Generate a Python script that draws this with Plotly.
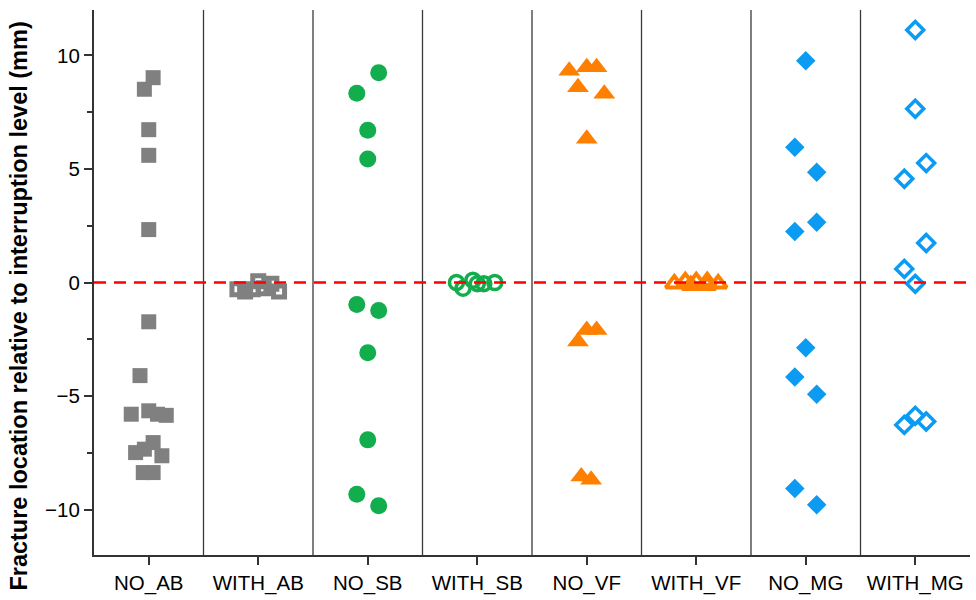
import plotly.graph_objects as go

categories = ["NO_AB", "WITH_AB", "NO_SB", "WITH_SB", "NO_VF", "WITH_VF", "NO_MG", "WITH_MG"]

# values (mm) and horizontal jitter (category units) per group
no_ab_y = [9.02, 8.51, 6.73, 5.6, 2.33, -1.73, -4.1, -5.8, -5.65, -5.8, -5.85, -7.05, -7.49, -7.34, -7.63, -8.37, -8.37]
no_ab_dx = [0.04, -0.04, 0.0, 0.0, 0.0, 0.0, -0.08, -0.16, 0.0, 0.08, 0.16, 0.04, -0.12, -0.04, 0.12, -0.05, 0.04]

with_ab_y = [-0.3, -0.4, -0.3, 0.05, -0.25, -0.05, -0.4]
with_ab_dx = [-0.19, -0.12, -0.05, 0.0, 0.05, 0.12, 0.19]

no_sb_y = [9.24, 8.33, 6.7, 5.44, -0.97, -1.23, -3.09, -6.93, -9.32, -9.83]
no_sb_dx = [0.1, -0.1, 0.0, 0.0, -0.1, 0.1, 0.0, 0.0, -0.1, 0.1]

with_sb_y = [0.0, -0.25, 0.1, -0.05, -0.05, 0.0]
with_sb_dx = [-0.19, -0.13, -0.04, 0.0, 0.06, 0.16]

no_vf_y = [9.33, 9.48, 9.48, 8.6, 8.31, 6.33, -2.09, -2.09, -2.6, -8.54, -8.69]
no_vf_dx = [-0.16, 0.0, 0.09, -0.08, 0.16, 0.0, 0.0, 0.09, -0.08, -0.05, 0.04]

with_vf_y = [-0.05, 0.05, 0.05, 0.05, -0.05, -0.12, -0.12]
with_vf_dx = [-0.2, -0.1, 0.0, 0.1, 0.2, -0.05, 0.1]

no_mg_y = [9.76, 5.96, 4.86, 2.65, 2.25, -2.87, -4.16, -4.92, -9.07, -9.79]
no_mg_dx = [0.0, -0.1, 0.1, 0.1, -0.1, 0.0, -0.1, 0.1, -0.1, 0.1]

with_mg_y = [11.12, 7.65, 5.26, 4.57, 1.74, 0.6, -0.06, -5.87, -6.27, -6.12]
with_mg_dx = [0.0, 0.0, 0.1, -0.1, 0.1, -0.1, 0.0, 0.0, -0.1, 0.1]

GRAY = "#808080"
GREEN = "#12ad4c"
ORANGE = "#ff8000"
BLUE = "#0c9bf2"

groups = [
    (no_ab_y, no_ab_dx, dict(symbol="square", size=15, color=GRAY)),
    (with_ab_y, with_ab_dx, dict(symbol="square-open", size=11, color=GRAY, line=dict(width=5, color=GRAY))),
    (no_sb_y, no_sb_dx, dict(symbol="circle", size=17, color=GREEN)),
    (with_sb_y, with_sb_dx, dict(symbol="circle-open", size=14, color=GREEN, line=dict(width=3.5, color=GREEN))),
    (no_vf_y, no_vf_dx, dict(symbol="triangle-up", size=19, color=ORANGE)),
    (with_vf_y, with_vf_dx, dict(symbol="triangle-up-open", size=15, color=ORANGE, line=dict(width=4, color=ORANGE))),
    (no_mg_y, no_mg_dx, dict(symbol="diamond", size=15, color=BLUE)),
    (with_mg_y, with_mg_dx, dict(symbol="diamond-open", size=13, color=BLUE, line=dict(width=3.5, color=BLUE))),
]

fig = go.Figure()
for i, (ys, dxs, mk) in enumerate(groups):
    fig.add_trace(go.Scatter(
        x=[i + d for d in dxs], y=ys, mode="markers",
        marker=mk, showlegend=False, cliponaxis=False,
    ))

# category separators
for i in range(len(categories) - 1):
    fig.add_shape(type="line", xref="x", yref="paper", x0=i + 0.5, x1=i + 0.5, y0=0, y1=1,
                  line=dict(color="#3a3a3a", width=1.3), layer="below")

# zero reference line
fig.add_shape(type="line", xref="paper", yref="y", x0=0, x1=1, y0=0, y1=0,
              line=dict(color="#ff0000", width=2.5, dash="12px,8px"), layer="above")

fig.add_annotation(
    text="<b>Fracture location relative to interruption level (mm)</b>",
    xref="paper", yref="paper", x=-0.086, y=0.457, textangle=-90,
    showarrow=False, xanchor="center", yanchor="middle",
    font=dict(family="Liberation Sans, Arial", size=23.5, color="#000"),
)

fig.update_layout(
    width=976, height=600,
    margin=dict(l=94, r=6, t=10, b=45),
    plot_bgcolor="white", paper_bgcolor="white",
    font=dict(family="Liberation Sans, Arial", size=20, color="#000"),
    xaxis=dict(
        range=[-0.5, 7.5], tickmode="array", tickvals=list(range(len(categories))),
        ticktext=categories, ticks="outside", ticklen=8, tickwidth=1.5, tickcolor="#333",
        showline=True, linecolor="#333", linewidth=2, showgrid=False, zeroline=False,
        tickfont=dict(size=20.5),
    ),
    yaxis=dict(
        range=[-12, 12], tickmode="array", tickvals=[-10, -5, 0, 5, 10],
        ticktext=["\u221210", "\u22125", "0", "5", "10"],
        ticks="outside", ticklen=8, tickwidth=1.5, tickcolor="#333",
        minor=dict(tickvals=[-7.5, -2.5, 2.5, 7.5], ticks="outside", ticklen=5, tickwidth=1.5, tickcolor="#333"),
        showline=True, linecolor="#333", linewidth=2, showgrid=False, zeroline=False,
        tickfont=dict(size=20.5),
    ),
)

fig.write_html("out.html")
